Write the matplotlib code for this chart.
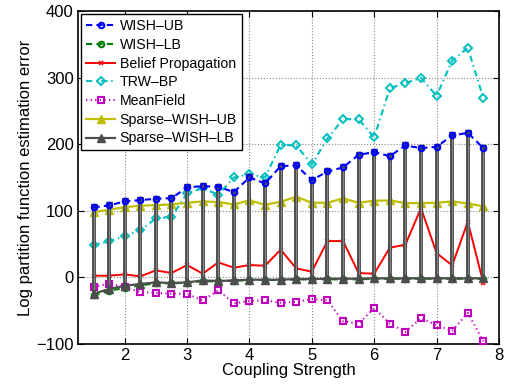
import numpy as np
import matplotlib
matplotlib.use("Agg")
import matplotlib.pyplot as plt

plt.rcParams['font.family'] = ['Liberation Sans', 'DejaVu Sans']

coupling = [1.5, 1.75, 2.0, 2.25, 2.5, 2.75, 3.0, 3.25, 3.5, 3.75, 4.0, 4.25, 4.5,
            4.75, 5.0, 5.25, 5.5, 5.75, 6.0, 6.25, 6.5, 6.75, 7.0, 7.25, 7.5, 7.75]

wish_ub = [105, 108, 114, 116, 118, 119, 135, 137, 136, 128, 150, 141, 167,
           168, 146, 159, 165, 184, 188, 182, 198, 194, 196, 213, 217, 194]
wish_lb = [-27, -20, -16, -12, -9, -9, -8, -6, -6, -5, -4, -4, -4,
           -3, -3, -3, -3, -3, -2, -2, -2, -2, -2, -2, -2, -2]
bp = [2.5, 2.5, 4.5, 1.5, 10.5, 6.5, 18.5, 5.5, 22.5, 14.5, 18.5, 17.5, 41.5,
      13.5, 8.5, 54.5, 54.5, 6.5, 5.5, 44.5, 49, 104, 36.5, 18, 83.5, -8.5]
trw_bp = [48.5, 54, 62, 70.5, 88.5, 91, 126, 134, 124, 150, 155, 150, 199,
          198, 169.5, 208.5, 237.5, 237.5, 210, 284, 291.5, 299.5, 272.5, 325.5, 344.5, 269]
mean_field = [-14, -9.5, -14.5, -22, -23.5, -24.5, -25, -34.5, -19.5, -39, -35.5, -34.5, -38,
              -37, -32.5, -34.5, -66, -69.5, -46, -69.5, -82, -61, -72, -80, -53.5, -96]
sparse_ub = [98, 101.5, 105.5, 107.5, 108.5, 109.5, 112, 114, 113, 109.5, 115.5, 109, 113.5,
             121, 112, 112, 118.5, 112, 115, 115.5, 111.5, 111.5, 112, 114, 111, 106.5]
sparse_lb = [-24.5, -17.5, -12.5, -10, -7.5, -8.5, -7.5, -4.5, -5.5, -4.5, -3.5, -3.5, -3.5,
             -2.5, -2.5, -2, -2, -2, -1.5, -1.5, -1.5, -1.5, -1.5, -1.5, -1.5, -1.5]

x_ticks = [2, 3, 4, 5, 6, 7, 8]
y_ticks = [-100, 0, 100, 200, 300, 400]

fig = plt.figure(figsize=(5.16, 3.90), dpi=100)
ax = fig.add_axes([0.151, 0.118, 0.816, 0.854])

x = np.array(coupling)
gray = '#4d4d4d'

l_ub, = ax.plot(x, wish_ub, color='#0000ff', lw=1.5, dashes=(3, 2), marker='o', ms=4,
                mfc='none', mec='#0000ff', mew=1.5, label='WISH–UB', zorder=5)
l_lb, = ax.plot(x, wish_lb, color='#008000', lw=1.5, dashes=(3, 2), marker='o', ms=4,
                mfc='none', mec='#008000', mew=1.5, label='WISH–LB', zorder=3)
l_bp, = ax.plot(x, bp, '-', color='#ff0000', lw=1.4, marker='x', ms=3.5,
                mew=1.1, label='Belief Propagation', zorder=3)
l_trw, = ax.plot(x, trw_bp, color='#00bfbf', lw=1.5, dashes=(3, 1.8, 0.7, 1.8), marker='D', ms=4,
                 mfc='none', mec='#00bfbf', mew=1.4, label='TRW–BP', zorder=3)
l_mf, = ax.plot(x, mean_field, color='#bf00bf', lw=1.5, dashes=(0.6, 1.6), marker='s', ms=4.5,
                mfc='none', mec='#bf00bf', mew=1.5, label='MeanField', zorder=3)
l_sub, = ax.plot(x, sparse_ub, '-', color='#bfbf00', lw=1.6, marker='^', ms=5.5,
                 mfc='#bfbf00', mec='#bfbf00', label='Sparse–WISH–UB', zorder=3)
ax.vlines(x, sparse_lb, wish_ub, colors=gray, lw=2.8, zorder=4)
ax.vlines(x, sparse_lb, wish_ub, colors='#8a8a8a', lw=0.7, zorder=4)
ax.plot(x, wish_ub, linestyle='none', marker='v', ms=4.5, color=gray, zorder=4.5)
l_slb, = ax.plot(x, sparse_lb, '-', color=gray, lw=1.6, marker='^', ms=5.5,
                 mfc=gray, mec=gray, label='Sparse–WISH–LB', zorder=4)

ax.set_xlim(1.25, 8)
ax.set_ylim(-100, 400)
ax.set_xticks(x_ticks)
ax.set_yticks(y_ticks)
ax.set_xticklabels([str(t) for t in x_ticks])
ax.set_yticklabels([str(t).replace('-', '−') for t in y_ticks])
ax.tick_params(direction='in', top=True, right=True, labelsize=12, length=4, pad=3)
ax.grid(True, linestyle=':', color='#888888', lw=0.8)
ax.set_axisbelow(True)
for s in ax.spines.values():
    s.set_linewidth(1.2)

ax.set_xlabel('Coupling Strength', fontsize=12, labelpad=0)
ax.set_ylabel('Log partition function estimation error', fontsize=12, labelpad=2)

leg = ax.legend(handles=[l_ub, l_lb, l_bp, l_trw, l_mf, l_sub, l_slb],
                loc='upper left', fontsize=10.2, frameon=True, fancybox=False,
                edgecolor='black', framealpha=1, labelspacing=0.33,
                handlelength=2.0, handletextpad=0.35, borderpad=0.35,
                borderaxespad=0.25)
leg.get_frame().set_linewidth(1.0)

fig.savefig('out.png', dpi=100)
